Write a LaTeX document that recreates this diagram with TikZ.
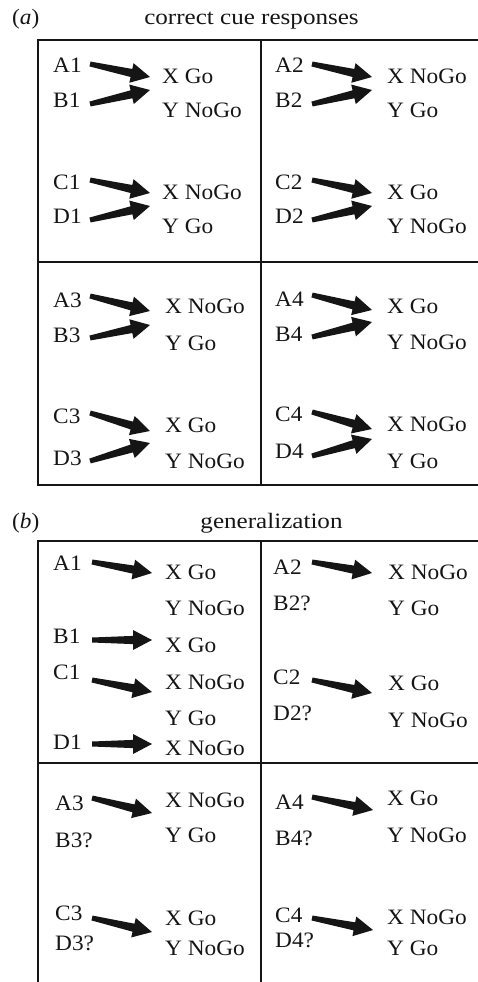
\documentclass[tikz,border=0pt]{standalone}
\usepackage{fontspec}
\setmainfont{Liberation Serif}
\usetikzlibrary{calc}
\definecolor{ink}{HTML}{151515}
\newcommand\sx[1]{\scalebox{1.06}[1]{#1}}
\newcommand\sxt[1]{\scalebox{1.14}[1]{#1}}
\tikzset{
  txt/.style={anchor=base west, inner sep=0pt, text=ink, font=\fontsize{22}{23}\selectfont},
  ttl/.style={anchor=base, inner sep=0pt, text=ink, font=\fontsize{22}{23}\selectfont},
  frame/.style={draw=ink, line width=1.4pt},
}
\newcommand\cuearrow[2]{%
  \coordinate (hb) at ($(#2)!19pt!(#1)$);
  \fill[ink] ($(#1)!2.5pt!90:(#2)$) -- ($(hb)!4.1pt!-90:(#1)$) -- ($(hb)!10pt!-90:(#1)$) -- (#2)
     -- ($(hb)!10pt!90:(#1)$) -- ($(hb)!4.1pt!90:(#1)$) -- ($(#1)!2.5pt!-90:(#2)$) -- cycle;}
\newcommand\arr[3]{\coordinate (#1t) at #2; \coordinate (#1h) at #3; \cuearrow{#1t}{#1h}}
\begin{document}
\begin{tikzpicture}[x=1pt,y=-1pt]
\useasboundingbox (0,0) rectangle (478,982);
% ---------- panel a ----------
\node[txt] (lbla) at (12,25) {\sx{(\textit{a})}};
\node[ttl] (ttla) at (251.5,25) {\sxt{correct cue responses}};
\draw[frame] (478,40) -- (38,40) -- (38,485) -- (478,485);
\draw[frame] (261,40) -- (261,485);
\draw[frame] (38,262) -- (478,262);
% cell 1
\node[txt] (aA1) at (53,73) {\sx{A1}};
\node[txt] (aX1) at (162,83) {\sx{X Go}};
\node[txt] (aB1) at (53,107) {\sx{B1}};
\node[txt] (aY1) at (162,117) {\sx{Y NoGo}};
\node[txt] (aC1) at (53,189) {\sx{C1}};
\node[txt] (aX1b) at (162,199) {\sx{X NoGo}};
\node[txt] (aD1) at (53,223) {\sx{D1}};
\node[txt] (aY1b) at (162,233) {\sx{Y Go}};
\arr{aa1}{(90,64)}{(150,77)}
\arr{ab1}{(90,104)}{(150,90)}
\arr{ac1}{(90,180)}{(150,193)}
\arr{ad1}{(90,220)}{(150,206)}
% cell 2
\node[txt] (aA2) at (275,73) {\sx{A2}};
\node[txt] (aX2) at (387,83) {\sx{X NoGo}};
\node[txt] (aB2) at (275,107) {\sx{B2}};
\node[txt] (aY2) at (387,117) {\sx{Y Go}};
\node[txt] (aC2) at (275,189) {\sx{C2}};
\node[txt] (aX2b) at (387,199) {\sx{X Go}};
\node[txt] (aD2) at (275,223) {\sx{D2}};
\node[txt] (aY2b) at (387,233) {\sx{Y NoGo}};
\arr{aa2}{(312,64)}{(372,77)}
\arr{ab2}{(312,104)}{(372,90)}
\arr{ac2}{(312,180)}{(372,193)}
\arr{ad2}{(312,220)}{(372,206)}
% cell 3
\node[txt] (aA3) at (53,307) {\sx{A3}};
\node[txt] (aX3) at (165,313) {\sx{X NoGo}};
\node[txt] (aB3) at (53,342) {\sx{B3}};
\node[txt] (aY3) at (165,350) {\sx{Y Go}};
\node[txt] (aC3) at (53,423) {\sx{C3}};
\node[txt] (aX3b) at (165,432) {\sx{X Go}};
\node[txt] (aD3) at (53,465) {\sx{D3}};
\node[txt] (aY3b) at (165,468) {\sx{Y NoGo}};
\arr{aa3}{(90,296)}{(150,311)}
\arr{ab3}{(90,338)}{(150,325)}
\arr{ac3}{(90,413)}{(150,431)}
\arr{ad3}{(90,461)}{(150,443)}
% cell 4
\node[txt] (aA4) at (275,306) {\sx{A4}};
\node[txt] (aX4) at (387,313) {\sx{X Go}};
\node[txt] (aB4) at (275,341) {\sx{B4}};
\node[txt] (aY4) at (387,349) {\sx{Y NoGo}};
\node[txt] (aC4) at (275,421) {\sx{C4}};
\node[txt] (aX4b) at (387,431) {\sx{X NoGo}};
\node[txt] (aD4) at (275,458) {\sx{D4}};
\node[txt] (aY4b) at (387,468) {\sx{Y Go}};
\arr{aa4}{(312,295)}{(372,310)}
\arr{ab4}{(312,337)}{(372,322)}
\arr{ac4}{(312,412)}{(372,429)}
\arr{ad4}{(312,456)}{(372,439)}
% ---------- panel b ----------
\node[txt] (lblb) at (12,528) {\sx{(\textit{b})}};
\node[ttl] (ttlb) at (271.5,528) {\sxt{generalization}};
\draw[frame] (38,982) -- (38,541) -- (478,541);
\draw[frame] (261,541) -- (261,982);
\draw[frame] (38,763) -- (478,763);
% cell 1
\node[txt] (bA1) at (53,570) {\sx{A1}};
\node[txt] (bX1) at (165,579) {\sx{X Go}};
\node[txt] (bY1) at (165,615) {\sx{Y NoGo}};
\node[txt] (bB1) at (53,643) {\sx{B1}};
\node[txt] (bX1b) at (165,652) {\sx{X Go}};
\node[txt] (bC1) at (53,679) {\sx{C1}};
\node[txt] (bX1c) at (165,689) {\sx{X NoGo}};
\node[txt] (bY1b) at (165,725) {\sx{Y Go}};
\node[txt] (bD1) at (53,749) {\sx{D1}};
\node[txt] (bX1d) at (165,755) {\sx{X NoGo}};
\arr{ba1}{(92,562)}{(152,573)}
\arr{bb1}{(92,640)}{(152,640)}
\arr{bc1}{(92,680)}{(152,692)}
\arr{bd1}{(92,744)}{(152,744)}
% cell 2
\node[txt] (bA2) at (273,574) {\sx{A2}};
\node[txt] (bX2) at (388,579) {\sx{X NoGo}};
\node[txt] (bB2) at (273,610) {\sx{B2?}};
\node[txt] (bY2) at (388,615) {\sx{Y Go}};
\node[txt] (bC2) at (273,684) {\sx{C2}};
\node[txt] (bX2b) at (388,690) {\sx{X Go}};
\node[txt] (bD2) at (273,720) {\sx{D2?}};
\node[txt] (bY2b) at (388,727) {\sx{Y NoGo}};
\arr{ba2}{(312,562)}{(372,573)}
\arr{bc2}{(312,680)}{(372,693)}
% cell 3
\node[txt] (bA3) at (55,810) {\sx{A3}};
\node[txt] (bX3) at (165,807) {\sx{X NoGo}};
\node[txt] (bB3) at (55,847) {\sx{B3?}};
\node[txt] (bY3) at (165,842) {\sx{Y Go}};
\node[txt] (bC3) at (55,920) {\sx{C3}};
\node[txt] (bX3b) at (165,925) {\sx{X Go}};
\node[txt] (bD3) at (55,950) {\sx{D3?}};
\node[txt] (bY3b) at (165,955) {\sx{Y NoGo}};
\arr{ba3}{(92,798)}{(152,813)}
\arr{bc3}{(92,918)}{(152,932)}
% cell 4
\node[txt] (bA4) at (275,809) {\sx{A4}};
\node[txt] (bX4) at (387,805) {\sx{X Go}};
\node[txt] (bB4) at (275,845) {\sx{B4?}};
\node[txt] (bY4) at (387,842) {\sx{Y NoGo}};
\node[txt] (bC4) at (275,922) {\sx{C4}};
\node[txt] (bX4b) at (387,924) {\sx{X NoGo}};
\node[txt] (bD4) at (275,947) {\sx{D4?}};
\node[txt] (bY4b) at (387,955) {\sx{Y Go}};
\arr{ba4}{(312,797)}{(373,810)}
\arr{bc4}{(312,918)}{(373,930)}
\end{tikzpicture}
\end{document}
